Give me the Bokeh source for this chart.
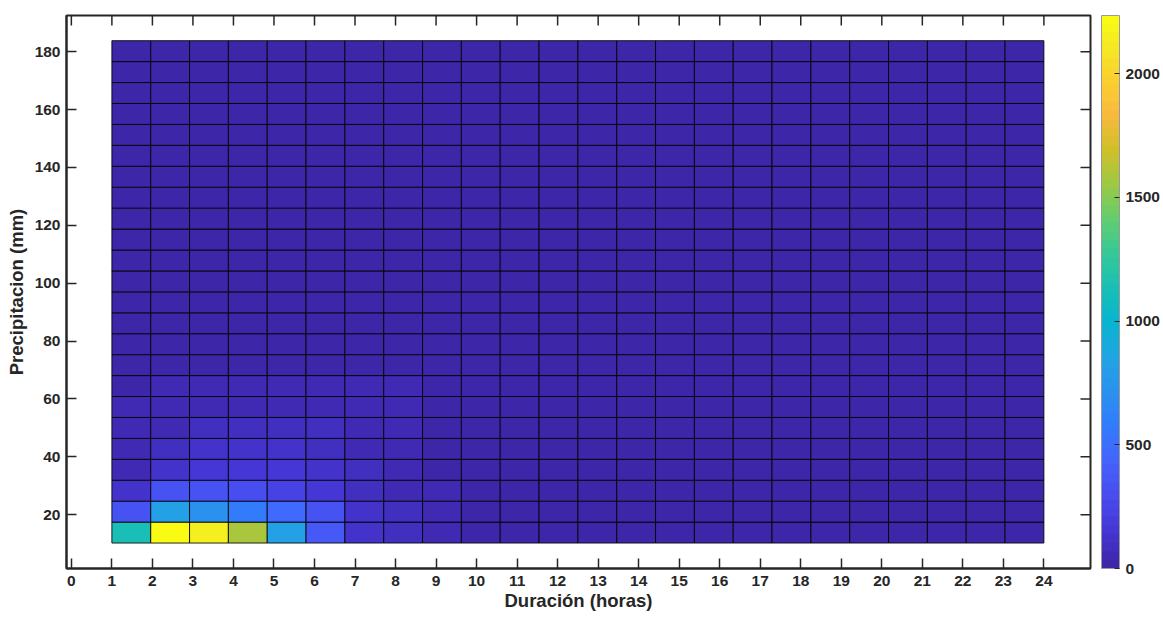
import numpy as np
from bokeh.plotting import figure
from bokeh.models import (Range1d, LinearAxis, ColorBar, LinearColorMapper,
                          FixedTicker, ColumnDataSource)
from bokeh.embed import file_html
from bokeh.resources import INLINE

# ---------------- data ----------------
duration_min, duration_max = 1, 24          # x extent of the pcolor grid (horas)
precip_min, precip_max = 10.2, 183.8         # y extent of the pcolor grid (mm)

# counts[row][col]; row 0 = lowest precipitation bin, col 0 = shortest duration bin
counts = [
    [1135, 2235, 2140, 1600, 820, 350, 120, 85, 50, 30, 28, 26, 24, 22, 20, 20, 18, 18, 16, 16, 15, 15, 14, 14],
    [340, 820, 730, 590, 455, 320, 125, 90, 40, 30, 27, 25, 23, 21, 20, 19, 18, 17, 16, 15, 15, 14, 14, 13],
    [120, 330, 335, 300, 210, 150, 85, 65, 45, 28, 26, 24, 22, 20, 19, 18, 17, 16, 15, 14, 14, 13, 13, 12],
    [65, 120, 160, 155, 150, 115, 80, 55, 30, 26, 24, 22, 20, 19, 18, 17, 16, 15, 14, 13, 13, 12, 12, 11],
    [50, 85, 115, 105, 115, 85, 65, 45, 28, 24, 22, 20, 19, 18, 17, 16, 15, 14, 13, 12, 12, 11, 11, 10],
    [40, 65, 80, 75, 80, 70, 50, 45, 26, 22, 20, 19, 18, 17, 16, 15, 14, 13, 12, 11, 11, 10, 10, 9],
    [36, 50, 60, 60, 65, 55, 45, 40, 24, 20, 19, 18, 17, 16, 15, 14, 13, 12, 11, 10, 10, 9, 9, 8],
    [30, 40, 45, 45, 50, 45, 40, 35, 22, 19, 18, 17, 16, 15, 14, 13, 12, 11, 10, 9, 9, 8, 8, 7],
    [28, 32, 34, 34, 34, 33, 30, 27, 20, 18, 17, 16, 15, 14, 13, 12, 11, 10, 9, 8, 8, 7, 7, 6],
    [26, 30, 32, 32, 33, 31, 28, 25, 19, 17, 16, 15, 14, 13, 12, 11, 10, 9, 8, 7, 7, 6, 6, 5],
    [24, 28, 30, 30, 31, 29, 26, 23, 18, 16, 15, 14, 13, 12, 11, 10, 9, 8, 7, 6, 6, 5, 5, 5],
    [22, 26, 28, 28, 29, 27, 24, 21, 17, 15, 14, 13, 12, 11, 10, 9, 8, 7, 6, 6, 5, 5, 4, 4],
    [20, 24, 26, 26, 27, 25, 22, 19, 16, 14, 13, 12, 11, 10, 9, 8, 7, 6, 6, 5, 5, 4, 4, 4],
    [18, 22, 24, 24, 25, 23, 20, 17, 15, 13, 12, 11, 10, 9, 8, 7, 6, 6, 5, 5, 4, 4, 3, 3],
    [16, 20, 22, 22, 23, 21, 18, 16, 14, 12, 11, 10, 9, 8, 7, 6, 6, 5, 5, 4, 4, 3, 3, 3],
    [15, 18, 20, 20, 21, 19, 17, 15, 13, 11, 10, 9, 8, 7, 6, 6, 5, 5, 4, 4, 3, 3, 3, 2],
    [14, 16, 18, 18, 19, 17, 15, 14, 12, 10, 9, 8, 7, 6, 6, 5, 5, 4, 4, 3, 3, 3, 2, 2],
    [13, 15, 16, 16, 17, 16, 14, 13, 11, 9, 8, 7, 6, 6, 5, 5, 4, 4, 3, 3, 3, 2, 2, 2],
    [12, 14, 15, 15, 15, 14, 13, 12, 10, 8, 7, 6, 6, 5, 5, 4, 4, 3, 3, 3, 2, 2, 2, 1],
    [11, 13, 14, 14, 14, 13, 12, 11, 9, 7, 6, 6, 5, 5, 4, 4, 3, 3, 3, 2, 2, 2, 1, 1],
    [10, 12, 13, 13, 13, 12, 11, 10, 8, 6, 6, 5, 5, 4, 4, 3, 3, 3, 2, 2, 2, 1, 1, 1],
    [9, 11, 12, 12, 12, 11, 10, 9, 7, 6, 5, 5, 4, 4, 3, 3, 3, 2, 2, 2, 1, 1, 1, 1],
    [8, 10, 11, 11, 11, 10, 9, 8, 6, 5, 5, 4, 4, 3, 3, 3, 2, 2, 2, 1, 1, 1, 1, 0],
    [7, 9, 10, 10, 10, 9, 8, 7, 5, 5, 4, 4, 3, 3, 3, 2, 2, 2, 1, 1, 1, 1, 0, 0],
]
color_max = 2235

x_ticks = list(range(0, 25))
y_ticks = [20, 40, 60, 80, 100, 120, 140, 160, 180]
cbar_ticks = [0, 500, 1000, 1500, 2000]
x_label = "Duración (horas)"
y_label = "Precipitacion (mm)"

# ---------------- parula colormap (64 levels) ----------------
parula_anchor_idx = [1, 5, 9, 13, 17, 21, 25, 29, 33, 37, 41, 45, 49, 53, 57, 61, 64]
parula_anchor_rgb = [
    (0.2422, 0.1504, 0.6603), (0.2706, 0.2147, 0.8364), (0.2813, 0.3006, 0.9414),
    (0.2699, 0.3892, 0.9906), (0.1963, 0.4847, 0.9892), (0.1687, 0.5703, 0.9359),
    (0.1248, 0.6459, 0.8883), (0.0297, 0.7082, 0.8163), (0.0964, 0.7500, 0.7120),
    (0.2161, 0.7843, 0.5923), (0.3909, 0.8029, 0.4354), (0.6174, 0.7876, 0.2612),
    (0.8203, 0.7498, 0.1535), (0.9728, 0.7298, 0.2394), (0.9892, 0.8136, 0.1885),
    (0.9597, 0.9135, 0.1423), (0.9769, 0.9839, 0.0805),
]
_rgb = np.array(parula_anchor_rgb)
parula = []
for i in range(1, 65):
    r = np.interp(i, parula_anchor_idx, _rgb[:, 0])
    g = np.interp(i, parula_anchor_idx, _rgb[:, 1])
    b = np.interp(i, parula_anchor_idx, _rgb[:, 2])
    parula.append("#%02x%02x%02x" % (int(round(r * 255)), int(round(g * 255)), int(round(b * 255))))

# ---------------- geometry of cells ----------------
n_rows = len(counts)
n_cols = len(counts[0])
x_edges = np.linspace(duration_min, duration_max, n_cols + 1)
y_edges = np.linspace(precip_min, precip_max, n_rows + 1)

left, right, bottom, top, val = [], [], [], [], []
for r in range(n_rows):
    for c in range(n_cols):
        left.append(x_edges[c]); right.append(x_edges[c + 1])
        bottom.append(y_edges[r]); top.append(y_edges[r + 1])
        val.append(counts[r][c])
src = ColumnDataSource(dict(left=left, right=right, bottom=bottom, top=top, value=val))

mapper = LinearColorMapper(palette=parula, low=0, high=color_max)

TXT = "#262626"
FONT = "Liberation Sans"
X_LO, X_HI = -0.12, 25.15
Y_LO, Y_HI = 1.4, 192.5

p = figure(frame_width=1024, frame_height=553,
           x_range=Range1d(X_LO, X_HI), y_range=Range1d(Y_LO, Y_HI),
           output_backend="svg", toolbar_location=None,
           min_border_left=66, min_border_top=15, min_border_bottom=51, min_border_right=73,
           x_axis_location=None, y_axis_location=None)
p.xgrid.grid_line_color = None
p.ygrid.grid_line_color = None
p.outline_line_color = TXT
p.outline_line_width = 2
p.background_fill_color = "white"
p.border_fill_color = "white"

p.quad(left="left", right="right", bottom="bottom", top="top", source=src,
       fill_color={"field": "value", "transform": mapper},
       line_color="black", line_width=1, line_alpha=0.85)

# box ticks on top and right edges (inward)
p.ray(x=x_ticks, y=[Y_HI] * len(x_ticks), length=10, length_units="screen",
      angle=-np.pi / 2, line_color=TXT, line_width=1.5)
p.ray(x=[X_HI] * len(y_ticks), y=y_ticks, length=10, length_units="screen",
      angle=np.pi, line_color=TXT, line_width=1.5)


def style_axis(ax):
    ax.axis_line_color = TXT
    ax.axis_line_width = 2
    ax.major_tick_line_color = TXT
    ax.major_tick_line_width = 1.5
    ax.major_tick_in = 10
    ax.major_tick_out = 0
    ax.minor_tick_line_color = None
    ax.major_label_text_font = FONT
    ax.major_label_text_font_style = "bold"
    ax.major_label_text_color = TXT
    ax.major_label_text_font_size = "15.5px"
    ax.axis_label_text_font = FONT
    ax.axis_label_text_font_style = "bold"
    ax.axis_label_text_color = TXT
    ax.axis_label_text_font_size = "18.5px"


xb = LinearAxis(ticker=FixedTicker(ticks=x_ticks), axis_label=x_label)
style_axis(xb)
xb.major_label_standoff = 7
xb.axis_label_standoff = 1
p.add_layout(xb, "below")

yl = LinearAxis(ticker=FixedTicker(ticks=y_ticks), axis_label=y_label)
style_axis(yl)
yl.major_label_standoff = 6
yl.axis_label_standoff = 5
p.add_layout(yl, "left")

cb = ColorBar(color_mapper=mapper, ticker=FixedTicker(ticks=cbar_ticks),
              width=18, height=553, padding=0, margin=0, location=(11, 0),
              major_label_text_font=FONT, major_label_text_font_style="bold",
              major_label_text_font_size="15.5px", major_label_text_color=TXT,
              major_tick_line_color=TXT, major_tick_in=5, major_tick_out=0,
              minor_tick_line_color=None, label_standoff=6,
              bar_line_color="#9a9a9a", bar_line_width=1,
              background_fill_alpha=0, border_line_color=None)
p.add_layout(cb, "right")

open("out.html", "w").write(file_html(p, INLINE))
